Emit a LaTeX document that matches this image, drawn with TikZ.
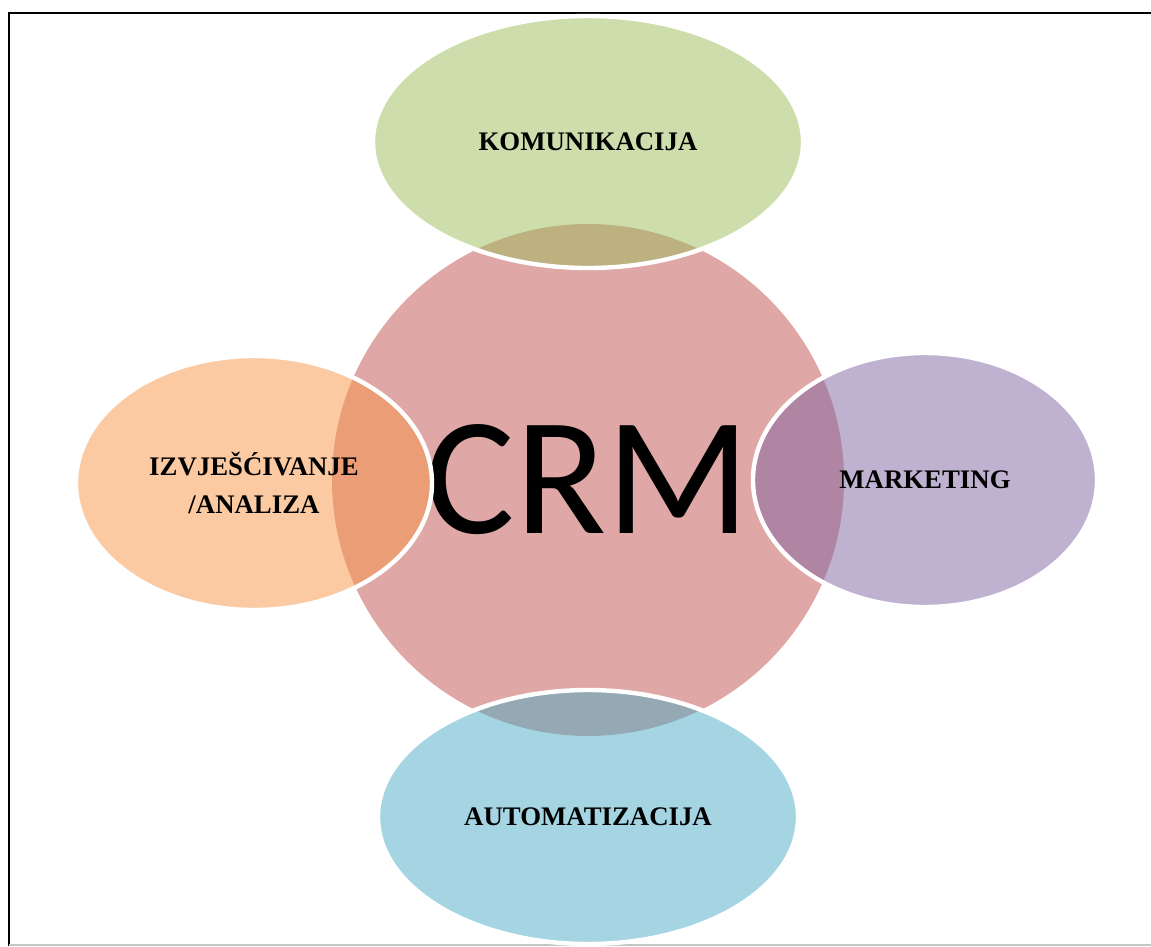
\documentclass[tikz,border=0pt]{standalone}
\usepackage{fontspec}
\setmainfont{Liberation Serif}
\newfontfamily\crmfont{Carlito}
\usetikzlibrary{shapes.geometric}
\definecolor{crmred}{HTML}{C0504D}
\definecolor{komgreen}{HTML}{9BBB59}
\definecolor{marviolet}{HTML}{8064A2}
\definecolor{autblue}{HTML}{4BACC6}
\definecolor{izvorange}{HTML}{F79646}

\begin{document}
\begin{tikzpicture}[
x=0.5pt, y=-0.5pt,
core/.style={circle, fill=crmred, fill opacity=0.5, text opacity=1, minimum size=256pt, inner sep=0pt, font=\crmfont\fontsize{84}{84}\selectfont},
petal/.style={ellipse, draw=white, line width=2.2pt, fill opacity=0.5, draw opacity=1, text opacity=1, inner sep=0pt, align=center, font=\bfseries\fontsize{13.4}{19}\selectfont}
]
\useasboundingbox (0,0) rectangle (1151,947);
% frame
\draw[line width=1.4pt] (9,946) -- (9,13) -- (1151,13);
\draw[gray!45, line width=0.6pt] (9,945) -- (1151,945);

\node[core] (crm) at (588,480) {\raisebox{1.5pt}{CRM}};
\node[petal, fill=komgreen, minimum width=215pt, minimum height=126pt] (komun) at (588,142) {KOMUNIKACIJA};
\node[petal, fill=marviolet, minimum width=172pt, minimum height=127pt] (market) at (925,480) {MARKETING};
\node[petal, fill=autblue, minimum width=210pt, minimum height=127pt] (autom) at (588,817) {AUTOMATIZACIJA};
\node[petal, fill=izvorange, minimum width=178pt, minimum height=127pt] (izvj) at (254,483) {IZVJEŠĆIVANJE\\/ANALIZA};
\end{tikzpicture}
\end{document}
